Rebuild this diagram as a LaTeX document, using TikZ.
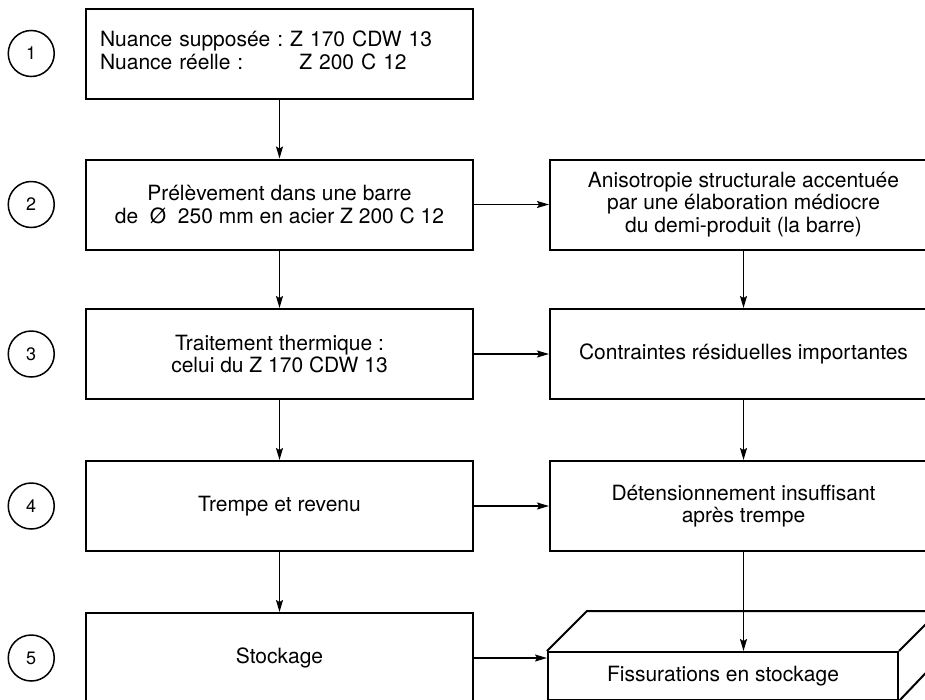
\documentclass[tikz,border=0pt]{standalone}
\usepackage{fontspec}
\setmainfont{TeX Gyre Heros}
\usetikzlibrary{positioning}
\usetikzlibrary{calc}
\usetikzlibrary{arrows.meta}

\begin{document}
\begin{tikzpicture}[x=1pt,y=-1pt,
      stepblock/.style={draw,rectangle,line width=2pt,minimum height=90pt,minimum width=387pt,
                        align=center,font=\fontsize{21}{22.5}\selectfont},
      stepnum/.style={draw,circle,line width=1.5pt,minimum size=46pt,inner sep=0pt,
                      font=\fontsize{18}{20}\selectfont},
      flow/.style={-{Stealth[length=12pt,width=7pt,inset=2pt]},line width=1.3pt},
      node distance=75pt]
      \useasboundingbox (0,0) rectangle (925,699);
      \clip (0,0) rectangle (925,699);

      % Blocks, left column
      \node[stepblock,align=left,text width=359pt,inner xsep=14pt] (b1) at (279.5,53.5)
           {\begin{tabular}{@{}l@{\ }l@{}}Nuance supposée : & Z 170 CDW 13\\
                                          Nuance réelle :   & \hspace{9pt}Z 200 C 12\end{tabular}};
      \node[stepblock] (b2) at (279.5,204.5) {Prélèvement dans une barre\\de \ Ø \ 250 mm en acier Z 200 C 12};
      \node[stepblock] (b3) at (279.5,354)   {Traitement thermique :\\celui du Z 170 CDW 13};
      \node[stepblock] (b4) at (279.5,506)   {Trempe et revenu};
      \node[stepblock] (b5) at (279.5,658)   {Stockage};

      % Blocks, right column
      \node[stepblock,right=of b2] (r2) {Anisotropie structurale accentuée\\par une élaboration médiocre\\du demi-produit (la barre)};
      \node[stepblock,right=of b3] (r3) {Contraintes résiduelles importantes};
      \node[stepblock,right=of b4] (r4) {Détensionnement insuffisant\\après trempe};
      \node[stepblock,minimum width=350pt,minimum height=48pt] (r5) at (723,676) {Fissurations en stockage};
      \draw[line width=2pt,line join=round] (r5.north west) -- ++(40,-40) -- ($(r5.north east)+(40,-40)$) -- (r5.north east)
                                            ++(40,-40) -- ++(0,48) -- (r5.south east);

      % Numbers
      \foreach \i in {1,...,5}
        \node[stepnum,left=30pt of b\i] (n\i) {\i};

      % Arrows
      \draw[flow] (b1) -- (b2);
      \draw[flow] (b2) -- (b3);
      \draw[flow] (b3) -- (b4);
      \draw[flow] (b4) -- (b5);
      \draw[flow] (b2) -- (r2);
      \draw[flow] (b3) -- (r3);
      \draw[flow] (b4) -- (r4);
      \draw[flow] (r2) -- (r3);
      \draw[flow] (r3) -- (r4);
      \draw[flow] (b5.east) -- (b5.east -| r5.west);
      \draw[flow] (r4.south) -- (r4.south |- r5.north);

    \end{tikzpicture}
\end{document}
